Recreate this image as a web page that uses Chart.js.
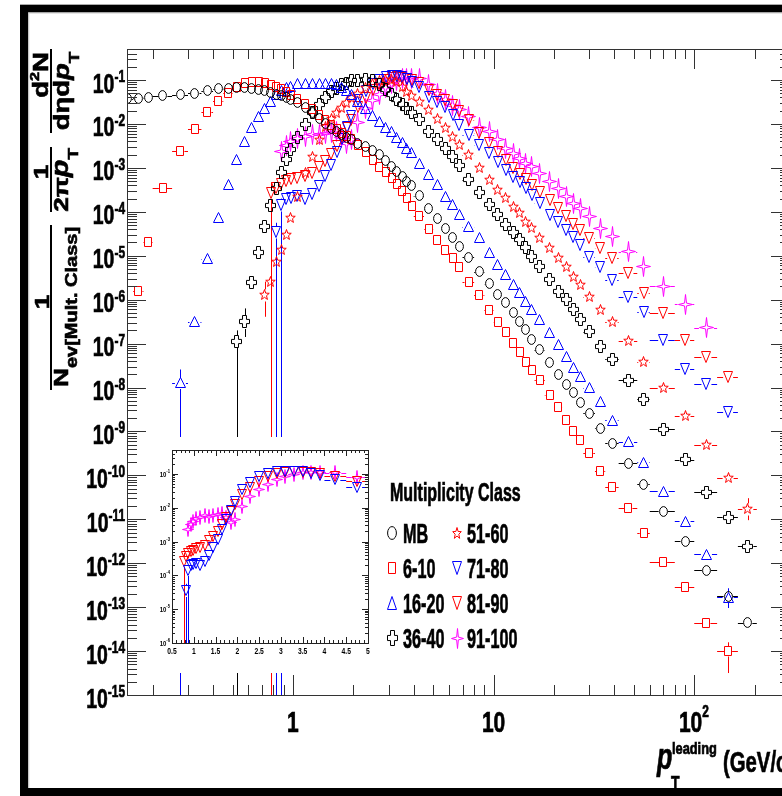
<!DOCTYPE html>
<html>
<head>
<meta charset="utf-8">
<script src="https://cdn.jsdelivr.net/npm/chart.js@4.4.0/dist/chart.umd.min.js"></script>
<style>
html, body { margin: 0; padding: 0; overflow: hidden; background: #fff; width: 782px; height: 796px; }
#main { position: absolute; left: 0; top: 0; }
#inset { position: absolute; left: 150px; top: 437px; background: #fff; }
</style>
</head>
<body>
<canvas id="main" width="800" height="796"></canvas>
<canvas id="inset" width="224" height="236"></canvas>
<script>
// pT bin edges (GeV/c), shared by every class
const ptEdges = [0.14, 0.16, 0.18, 0.2, 0.25, 0.3, 0.35, 0.4, 0.45, 0.5,
  0.55, 0.6, 0.65, 0.7, 0.75, 0.8, 0.85, 0.9, 0.95, 1.0,
  1.1, 1.2, 1.3, 1.4, 1.5, 1.6, 1.7, 1.8, 1.9, 2.0,
  2.2, 2.4, 2.6, 2.8, 3.0, 3.2, 3.4, 3.6, 3.8, 4.0,
  4.5, 5.0, 5.5, 6.0, 6.5, 7.0, 8, 9, 10, 11,
  12, 13, 14, 15, 16, 18, 20, 22, 24, 26,
  28, 32, 36, 42, 52, 60, 80, 100, 130, 165, 205];

const classes = ['MB', '6-10', '16-20', '36-40', '51-60', '71-80', '81-90', '91-100'];
// index of the first filled bin for each class
const firstBin = [0, 1, 4, 9, 13, 15, 14, 16];

// log10 of the yield
const logMB = [-1.43, -1.41, -1.39, -1.36, -1.34, -1.30, -1.24, -1.20, -1.19, -1.17,
  -1.17, -1.20, -1.22, -1.25, -1.28, -1.32, -1.36, -1.40, -1.44, -1.52,
  -1.63, -1.75, -1.88, -2.00, -2.10, -2.17, -2.24, -2.30, -2.36, -2.44,
  -2.52, -2.61, -2.70, -2.84, -2.98, -3.09, -3.20, -3.30, -3.41, -3.64,
  -3.93, -4.16, -4.38, -4.59, -4.80, -5.03, -5.37, -5.64, -5.89, -6.07,
  -6.30, -6.50, -6.68, -6.91, -7.14, -7.43, -7.70, -7.93, -8.11, -8.34,
  -8.59, -8.93, -9.27, -9.73, -10.20, -10.82, -11.50, -12.16, -12.75, -13.36];
const log6_10 = [-5.80, -4.68, -3.45, -2.61, -2.11, -1.73, -1.48, -1.30, -1.16, -1.07,
  -1.05, -1.05, -1.07, -1.11, -1.16, -1.20, -1.27, -1.34, -1.43, -1.55,
  -1.66, -1.80, -1.91, -2.02, -2.11, -2.20, -2.27, -2.34, -2.48, -2.64,
  -2.82, -2.98, -3.10, -3.22, -3.36, -3.52, -3.68, -3.86, -4.10, -4.40,
  -4.64, -4.86, -5.05, -5.25, -5.59, -5.89, -6.23, -6.50, -6.73, -6.98,
  -7.20, -7.41, -7.60, -7.82, -8.16, -8.45, -8.75, -9.00, -9.20, -9.50,
  -9.89, -10.27, -10.75, -11.32, -11.98, -12.55, -13.36, -14.00];
const log16_20 = [-7.89, -6.50, -5.07, -4.14, -3.39, -2.82, -2.41, -2.09, -1.84, -1.64,
  -1.48, -1.34, -1.25, -1.18, -1.14, -1.09, -1.07, -1.07, -1.07, -1.07,
  -1.08, -1.11, -1.16, -1.23, -1.32, -1.50, -1.66, -1.80, -1.95, -2.07,
  -2.18, -2.30, -2.43, -2.55, -2.64, -2.89, -3.16, -3.39, -3.66, -3.84,
  -4.07, -4.34, -4.59, -4.93, -5.20, -5.43, -5.66, -5.84, -6.05, -6.23,
  -6.45, -6.75, -7.02, -7.30, -7.55, -7.75, -8.00, -8.32, -8.75, -9.23,
  -9.70, -10.36, -11.05, -11.80, -12.77];
const log36_40 = [-6.95, -6.50, -5.61, -4.93, -4.34, -3.86, -3.48, -3.11, -2.82, -2.59,
  -2.30, -2.02, -1.75, -1.55, -1.39, -1.27, -1.20, -1.11, -1.07, -1.02,
  -1.00, -0.98, -1.00, -1.10, -1.22, -1.33, -1.45, -1.55, -1.64, -1.73,
  -1.91, -2.18, -2.36, -2.55, -2.73, -2.95, -3.27, -3.57, -3.84, -4.07,
  -4.30, -4.48, -4.64, -4.82, -5.02, -5.25, -5.55, -5.82, -6.00, -6.23,
  -6.45, -6.73, -7.07, -7.36, -7.84, -8.27, -8.95, -9.64, -10.39, -10.95, -11.61];
const log51_60 = [-5.89, -5.59, -5.14, -4.86, -4.52, -4.14, -3.66, -3.11, -2.75, -2.36,
  -2.07, -1.89, -1.75, -1.64, -1.52, -1.41, -1.32, -1.18, -1.09, -1.02,
  -1.00, -1.00, -1.05, -1.15, -1.27, -1.36, -1.50, -1.68, -1.89, -2.09,
  -2.30, -2.48, -2.70, -3.00, -3.27, -3.50, -3.68, -3.89, -4.02, -4.23,
  -4.36, -4.59, -4.82, -5.05, -5.25, -5.48, -5.66, -5.93, -6.23, -6.52,
  -6.95, -7.41, -8.00, -8.64, -9.30, -10.05, -10.77];
const log71_80 = [-4.45, -3.85, -3.72, -3.68, -3.65, -3.70, -3.60, -3.42, -3.18, -2.94,
  -2.65, -2.35, -2.07, -1.81, -1.46, -1.25, -1.09, -1.00, -0.94, -0.92,
  -0.92, -0.94, -0.98, -1.05, -1.17, -1.39, -1.50, -1.61, -1.80, -2.02,
  -2.25, -2.48, -2.66, -2.86, -3.05, -3.20, -3.32, -3.45, -3.61, -3.80,
  -4.07, -4.23, -4.41, -4.57, -4.75, -5.02, -5.25, -5.55, -5.93, -6.27,
  -6.91, -7.57, -7.91, -8.55];
const log81_90 = [-3.58, -3.45, -3.36, -3.30, -3.26, -3.22, -3.19, -3.12, -2.98, -2.84,
  -2.69, -2.50, -2.30, -2.10, -1.91, -1.61, -1.41, -1.22, -1.09, -1.00,
  -0.95, -0.94, -0.95, -0.97, -0.99, -1.07, -1.22, -1.34, -1.45, -1.57,
  -1.70, -1.90, -2.20, -2.43, -2.64, -2.82, -3.00, -3.14, -3.25, -3.39,
  -3.55, -3.73, -3.91, -4.09, -4.27, -4.41, -4.59, -4.82, -5.05, -5.39,
  -5.84, -6.30, -6.91, -7.30, -7.75];
const log91_100 = [-2.63, -2.50, -2.40, -2.33, -2.28, -2.23, -2.25, -2.22, -2.20, -2.17,
  -2.30, -2.45, -2.35, -1.96, -1.66, -1.46, -1.32, -1.17, -1.07, -1.02,
  -0.97, -0.96, -0.96, -0.97, -1.10, -1.30, -1.45, -1.57, -1.68, -1.84,
  -2.07, -2.18, -2.35, -2.55, -2.68, -2.78, -2.89, -2.98, -3.12, -3.32,
  -3.47, -3.65, -3.82, -3.93, -4.11, -4.38, -4.57, -4.91, -5.25, -5.70,
  -6.11, -6.64];

// visible vertical errors: [class, pT, down (decades, Infinity = to zero), up]
const yErrs = [
  ['16-20', 0.275, Infinity, 0.3],
  ['36-40', 0.525, Infinity, 0.25],
  ['36-40', 0.575, 0.35, 0.3],
  ['51-60', 0.725, 0.5, 0.3],
  ['81-90', 0.775, Infinity, 0.25],
  ['71-80', 0.825, Infinity, 0.2],
  ['71-80', 0.875, Infinity, 0.15],
  ['6-10', 147.5, 0.5, 0.2],
  ['16-20', 147.5, 0.25, 0.2],
  ['51-60', 185, 0.25, 0.25]
];

const seriesLog = [logMB, log6_10, log16_20, log36_40, log51_60, log71_80, log81_90, log91_100];
const colors = ['#000', '#f00', '#00f', '#000', '#f00', '#00f', '#f00', '#f0f'];
const shapes = ['circle', 'square', 'triUp', 'cross', 'star5', 'triDown', 'triDown', 'star4'];
const markSize = { circle: [9, 11], square: [8, 10], triUp: [11, 11], cross: [11, 13], star5: [11, 12], triDown: [10, 12], star4: [15, 21] };
const legendSize = { circle: [10, 14], square: [8, 12], triUp: [10, 14], cross: [11, 16], star5: [10, 13], triDown: [10, 14], star4: [13, 21] };

const FONT = '"Liberation Sans", Arial, sans-serif';
const dec = e => Number('1e' + e);
const centers = ptEdges.slice(0, -1).map((lo, i) => (lo + ptEdges[i + 1]) / 2);

function poly(g, pts) {
  pts.forEach((p, i) => i ? g.lineTo(p[0], p[1]) : g.moveTo(p[0], p[1]));
  g.closePath();
}
function starPath(g, w, h, n, ratio) {
  const cx = w / 2, cy = h / 2, rx = w / 2 - 0.5, ry = h / 2 - 0.5, pts = [];
  for (let k = 0; k < 2 * n; k++) {
    const t = -Math.PI / 2 + k * Math.PI / n, f = k % 2 ? ratio : 1;
    pts.push([cx + rx * f * Math.cos(t), cy + ry * f * Math.sin(t)]);
  }
  poly(g, pts);
}
const SHAPES = {
  circle(g, w, h) { g.ellipse(w / 2, h / 2, w / 2 - 0.6, h / 2 - 0.6, 0, 0, Math.PI * 2); },
  square(g, w, h) { g.rect(0.5, 0.5, w - 1, h - 1); },
  triUp(g, w, h) { poly(g, [[w / 2, 0.5], [w - 0.5, h - 0.5], [0.5, h - 0.5]]); },
  triDown(g, w, h) { poly(g, [[0.5, 0.5], [w - 0.5, 0.5], [w / 2, h - 0.5]]); },
  cross(g, w, h) {
    const cx = w / 2, cy = h / 2, a = w * 0.18, b = h * 0.16, r = w - 0.5, B = h - 0.5;
    poly(g, [[cx - a, 0.5], [cx + a, 0.5], [cx + a, cy - b], [r, cy - b], [r, cy + b], [cx + a, cy + b],
      [cx + a, B], [cx - a, B], [cx - a, cy + b], [0.5, cy + b], [0.5, cy - b], [cx - a, cy - b]]);
  },
  star5(g, w, h) { starPath(g, w, h, 5, 0.42); },
  star4(g, w, h) { starPath(g, w, h, 4, 0.2); }
};
function makeMarker(shape, w, h, color) {
  const c = document.createElement('canvas');
  c.width = w; c.height = h;
  const g = c.getContext('2d');
  g.strokeStyle = color; g.lineWidth = 1;
  g.beginPath(); SHAPES[shape](g, w, h); g.stroke();
  return c;
}

function seriesPoints(k) {
  const pts = seriesLog[k].map((v, j) => {
    const i = firstBin[k] + j;
    return { x: centers[i], y: 10 ** v, lo: ptEdges[i], hi: ptEdges[i + 1] };
  });
  yErrs.filter(e => e[0] === classes[k]).forEach(([, pt, dn, up]) => {
    let best = pts[0];
    pts.forEach(p => { if (Math.abs(Math.log(p.x / pt)) < Math.abs(Math.log(best.x / pt))) best = p; });
    best.dn = dn; best.up = up;
  });
  return pts;
}

// bold text, squeezed horizontally by hs, lightly stroked to match the heavy ROOT font
function put(ctx, s, x, y, size, hs, align, style) {
  ctx.save();
  ctx.translate(x, y);
  ctx.scale(hs, 1);
  ctx.font = `${style || 'bold'} ${size}px ${FONT}`;
  ctx.textAlign = align || 'left';
  ctx.textBaseline = 'alphabetic';
  ctx.fillText(s, 0, 0);
  if (size > 12) { ctx.lineWidth = 0.7; ctx.strokeStyle = ctx.fillStyle; ctx.strokeText(s, 0, 0); }
  const w = ctx.measureText(s).width * hs;
  ctx.restore();
  return w;
}
function putRot(ctx, runs, bx, yc, hs) {
  ctx.save();
  ctx.translate(bx, yc);
  ctx.rotate(-Math.PI / 2);
  ctx.scale(hs, 1);
  ctx.textBaseline = 'alphabetic';
  ctx.strokeStyle = ctx.fillStyle; ctx.lineWidth = 0.6;
  const font = r => `${r[3] || 'bold'} ${r[1]}px ${FONT}`;
  let total = 0;
  for (const r of runs) { ctx.font = font(r); total += ctx.measureText(r[0]).width; }
  let u = -total / 2;
  for (const r of runs) {
    ctx.font = font(r);
    ctx.fillText(r[0], u, r[2]);
    ctx.strokeText(r[0], u, r[2]);
    u += ctx.measureText(r[0]).width;
  }
  ctx.restore();
}

const errorBars = {
  id: 'errorBars',
  beforeDatasetsDraw(chart) {
    const { ctx, chartArea: a, scales: { x, y } } = chart;
    ctx.imageSmoothingEnabled = false;
    ctx.save();
    ctx.beginPath(); ctx.rect(a.left, a.top, a.right - a.left, a.bottom - a.top); ctx.clip();
    ctx.lineWidth = 1;
    for (const ds of chart.data.datasets) {
      const hw = ds.pointStyle.width / 2, hh = ds.pointStyle.height / 2;
      ctx.strokeStyle = ds.errColor;
      ctx.beginPath();
      for (const p of ds.data) {
        const px = x.getPixelForValue(p.x), py = Math.round(y.getPixelForValue(p.y)) + 0.5;
        const l = x.getPixelForValue(p.lo), r = x.getPixelForValue(p.hi);
        if (px - l > hw) { ctx.moveTo(l, py); ctx.lineTo(px - hw, py); }
        if (r - px > hw) { ctx.moveTo(px + hw, py); ctx.lineTo(r, py); }
        const vx = Math.round(px) + 0.5;
        if (p.up) {
          const t = y.getPixelForValue(p.y * 10 ** p.up);
          if (t < py - hh) { ctx.moveTo(vx, py - hh); ctx.lineTo(vx, t); }
        }
        if (p.dn) {
          const b = isFinite(p.dn) ? y.getPixelForValue(p.y / 10 ** p.dn) : a.bottom;
          if (b > py + hh) { ctx.moveTo(vx, py + hh); ctx.lineTo(vx, b); }
        }
      }
      ctx.stroke();
    }
    ctx.restore();
  }
};

const mainDecor = {
  id: 'mainDecor',
  afterDraw(chart) {
    const { ctx, chartArea: a, scales: { x, y } } = chart;
    ctx.save();
    // frame and ticks
    ctx.strokeStyle = '#333'; ctx.lineWidth = 1;
    ctx.strokeRect(a.left + 0.5, a.top + 0.5, a.right - a.left, a.bottom - a.top);
    ctx.beginPath();
    for (let e = -1; e <= 2; e++) for (let k = 1; k < 10; k++) {
      const v = k * dec(e);
      if (v < x.min || v > x.max) continue;
      const px = Math.round(x.getPixelForValue(v)) + 0.5, len = k === 1 ? 20 : 10;
      ctx.moveTo(px, a.bottom); ctx.lineTo(px, a.bottom - len);
      ctx.moveTo(px, a.top); ctx.lineTo(px, a.top + len);
    }
    for (let e = -15; e <= 0; e++) for (let k = 1; k < 10; k++) {
      const v = k * dec(e);
      if (v < y.min * 0.999 || v > y.max) continue;
      const py = Math.round(y.getPixelForValue(v)) + 0.5, len = k === 1 ? 19 : 10;
      ctx.moveTo(a.left, py); ctx.lineTo(a.left + len, py);
      ctx.moveTo(a.right, py); ctx.lineTo(a.right - len, py);
    }
    ctx.stroke();

    // tick labels
    ctx.fillStyle = '#000';
    for (let e = -15; e <= -1; e++) {
      const py = y.getPixelForValue(dec(e));
      const ws = put(ctx, '-' + (-e), 125, py + 2, 17, 0.7, 'right');
      put(ctx, '10', 125 - ws, py + 12.5, 27, 0.72, 'right');
    }
    put(ctx, '1', x.getPixelForValue(1), 732, 30, 0.7, 'center');
    put(ctx, '10', x.getPixelForValue(10), 732, 30, 0.7, 'center');
    const x100 = x.getPixelForValue(100);
    put(ctx, '10', x100 + 8, 732, 30, 0.7, 'right');
    put(ctx, '2', x100 + 8, 717, 17, 0.7, 'left');

    // x title
    put(ctx, 'p', 657, 769, 36, 0.7, 'left', 'bold italic');
    put(ctx, 'T', 671, 790, 20, 0.7, 'left');
    put(ctx, 'leading', 672, 754, 16, 0.8, 'left');
    put(ctx, '(GeV/c)', 723, 772, 29, 0.7, 'left');

    // y title: three stacked fractions
    putRot(ctx, [['d', 22, 0], ['2', 13, -9], ['N', 22, 0]], 48, 75, 1.25);
    putRot(ctx, [['d', 22, 0], ['\u03b7', 22, 0], ['d', 22, 0], ['p', 22, 0, 'bold italic'], ['T', 15, 10]], 69, 91, 1.25);
    putRot(ctx, [['1', 21, 0]], 48, 172, 1.25);
    putRot(ctx, [['2', 21, 0], ['\u03c0', 21, 0], ['p', 23, 0, 'bold italic'], ['T', 15, 10]], 68, 180, 1.25);
    putRot(ctx, [['1', 21, 0]], 49, 302, 1.25);
    putRot(ctx, [['N', 21, 0], ['ev[Mult. Class]', 16, 9]], 68, 307, 1.25);
    ctx.fillRect(50, 49, 2, 84);
    ctx.fillRect(50, 147, 2, 65);
    ctx.fillRect(50, 225, 2, 165);

    // legend
    put(ctx, 'Multiplicity Class', 390, 501, 25, 0.64, 'left');
    classes.forEach((name, k) => {
      const col = k < 4 ? 0 : 1, row = k % 4;
      const cx = col ? 457 : 392, cy = [533, 568, 603, 638][row];
      const [w, h] = legendSize[shapes[k]];
      ctx.drawImage(makeMarker(shapes[k], w, h, colors[k]), Math.round(cx - w / 2), Math.round(cy - h / 2));
      put(ctx, name, col ? 467 : 403, cy + 9.5, 27, 0.6, 'left');
    });

    // canvas border
    ctx.fillStyle = '#000';
    ctx.fillRect(20, 5, 8.3, 791);
    ctx.fillRect(20, 5, 780, 7.5);
    ctx.fillRect(20, 788, 780, 8);
    ctx.strokeStyle = '#aaa';
    ctx.beginPath(); ctx.moveTo(20, 4.5); ctx.lineTo(800, 4.5); ctx.stroke();
    ctx.strokeStyle = '#ccc';
    ctx.beginPath();
    ctx.moveTo(28.8, 12.5); ctx.lineTo(28.8, 788);
    ctx.moveTo(28.3, 13); ctx.lineTo(800, 13);
    ctx.stroke();
    ctx.restore();
  }
};

const insetDecor = {
  id: 'insetDecor',
  afterDraw(chart) {
    const { ctx, chartArea: a, scales: { x, y } } = chart;
    ctx.save();
    ctx.strokeStyle = '#222'; ctx.lineWidth = 1;
    ctx.strokeRect(a.left + 0.5, a.top + 0.5, a.right - a.left, a.bottom - a.top);
    ctx.beginPath();
    for (let i = 5; i <= 50; i++) {
      const px = Math.round(x.getPixelForValue(i / 10)) + 0.5, len = i % 5 ? 3 : 6;
      ctx.moveTo(px, a.bottom); ctx.lineTo(px, a.bottom - len);
      ctx.moveTo(px, a.top); ctx.lineTo(px, a.top + len);
    }
    for (let e = -6; e <= 0; e++) for (let k = 1; k < 10; k++) {
      const v = k * dec(e);
      if (v < y.min * 0.999 || v > y.max) continue;
      const py = Math.round(y.getPixelForValue(v)) + 0.5, len = k === 1 ? 6 : 3;
      ctx.moveTo(a.left, py); ctx.lineTo(a.left + len, py);
      ctx.moveTo(a.right, py); ctx.lineTo(a.right - len, py);
    }
    ctx.stroke();
    ctx.fillStyle = '#000';
    for (let e = -6; e <= -1; e++) {
      const py = y.getPixelForValue(dec(e));
      const ws = put(ctx, '-' + (-e), a.left - 2, py - 1, 5.5, 0.75, 'right');
      put(ctx, '10', a.left - 2 - ws, py + 3, 8, 0.75, 'right');
    }
    for (let i = 1; i <= 10; i++) {
      const v = i / 2;
      put(ctx, String(v), x.getPixelForValue(v), a.bottom + 11, 9, 0.75, 'center');
    }
    ctx.restore();
  }
};

const mainSets = classes.map((name, k) => ({
  label: name,
  data: seriesPoints(k),
  pointStyle: makeMarker(shapes[k], ...markSize[shapes[k]], colors[k]),
  pointRadius: 5,
  showLine: false,
  errColor: colors[k],
  order: k
}));

new Chart(document.getElementById('main'), {
  type: 'scatter',
  data: { datasets: mainSets },
  options: {
    responsive: false,
    animation: false,
    events: [],
    layout: { padding: { left: 127, top: 49, right: 10, bottom: 101 } },
    plugins: { legend: { display: false }, tooltip: { enabled: false } },
    scales: {
      x: { type: 'logarithmic', min: 0.149, max: 300, display: false },
      y: { type: 'logarithmic', min: 1e-15, max: 0.508, display: false }
    }
  },
  plugins: [errorBars, mainDecor]
});

// inset: the three highest classes on a linear pT axis
const insetMarks = { triDown: [10, 11], star4: [12, 15] };
const insetSets = [5, 6, 7].map((k, j) => ({
  label: classes[k],
  data: seriesPoints(k).filter(p => p.x > 0.5 && p.x < 5),
  pointStyle: makeMarker(shapes[k], ...insetMarks[shapes[k]], colors[k]),
  pointRadius: 5,
  showLine: false,
  errColor: colors[k],
  order: j
}));

new Chart(document.getElementById('inset'), {
  type: 'scatter',
  data: { datasets: insetSets },
  options: {
    responsive: false,
    animation: false,
    events: [],
    layout: { padding: { left: 22, top: 13, right: 3, bottom: 30 } },
    plugins: { legend: { display: false }, tooltip: { enabled: false } },
    scales: {
      x: { type: 'linear', min: 0.5, max: 5, display: false },
      y: { type: 'logarithmic', min: 1e-6, max: 0.51, display: false }
    }
  },
  plugins: [errorBars, insetDecor]
});
</script>
</body>
</html>
